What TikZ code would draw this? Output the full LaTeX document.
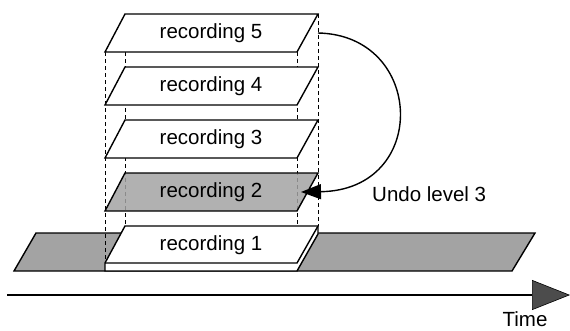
\documentclass[tikz,border=0pt]{standalone}
\usepackage{fontspec}
\setmainfont{Liberation Sans}
\usetikzlibrary{arrows.meta}
\definecolor{stip}{gray}{0.64}
\begin{document}
\begin{tikzpicture}[x=1pt,y=-1pt,
  face/.style={draw,line width=1.4pt,line join=miter,fill=white},
  shaded/.style={draw,line width=1.4pt,line join=miter,fill=stip},
  guide/.style={line width=0.8pt,dash pattern=on 4pt off 3pt},
  lab/.style={font=\fontsize{20.5}{24}\selectfont,inner sep=0pt}]
\useasboundingbox (0,0) rectangle (570,330);
% long gray bar
\path[shaded] (14,271) -- (36,233) -- (535,233) -- (512,271) -- cycle;
% guide lines
\draw[guide] (105,52) -- (105,271);
\draw[guide] (125,52) -- (125,226);
\draw[guide] (297,52) -- (297,271);
\draw[guide] (318,14) -- (318,226);
% recording 1 slab
\path[face] (105,263) -- (125,226) -- (318,226) -- (318,234) -- (297,271) -- (105,271) -- cycle;
\draw[line width=1.4pt,line join=miter] (105,263) -- (297,263) -- (318,226);
% recordings 5,4,3
\foreach \t in {14,67,120}{
  \path[face] (125,\t) -- (318,\t) -- (297,\t+38) -- (105,\t+38) -- cycle;
}
% recording 2
\path[shaded,fill opacity=0.85] (125,173) -- (318,173) -- (297,211) -- (105,211) -- cycle;
% labels
\node[lab] (r5) at (211,33) {recording 5};
\node[lab] (r4) at (211,86) {recording 4};
\node[lab] (r3) at (211,139) {recording 3};
\node[lab] (r2) at (211,192) {recording 2};
\node[lab] (r1) at (211,245) {recording 1};
% undo arrow
\coordinate (ua) at (318,33);
\coordinate (ub) at (301,192);
\draw[line width=1.4pt,-{Triangle[length=20pt,width=15pt]}] (ua) .. controls (425,35) and (430,190) .. (ub);
\node[lab,anchor=west] (undo) at (372,194) {Undo level 3};
% time axis
\coordinate (t0) at (7,295);
\coordinate (t1) at (570,295);
\draw[line width=1.6pt,-{Triangle[length=38pt,width=30pt,fill=black!70,line width=0.6pt]}] (t0) -- (t1);
\node[lab] (time) at (525,319) {Time};
\end{tikzpicture}
\end{document}
